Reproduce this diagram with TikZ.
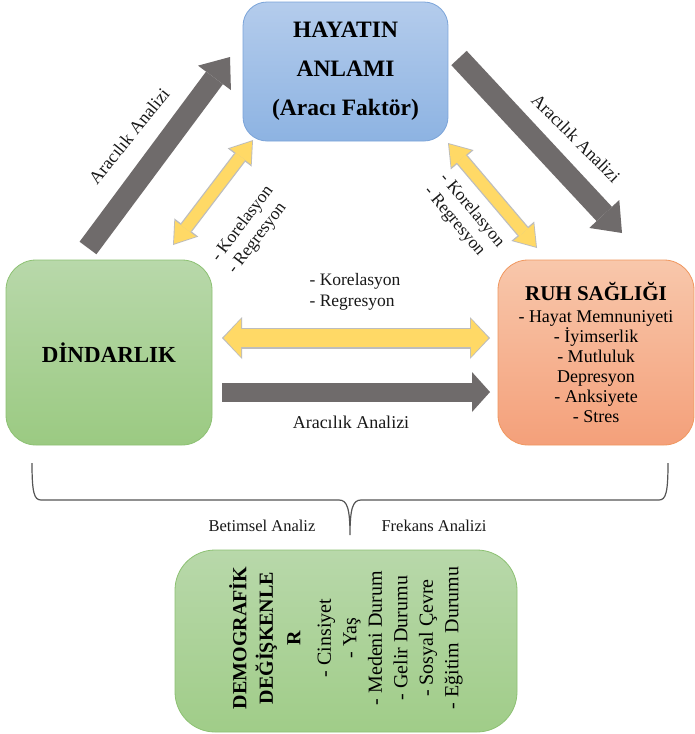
\documentclass[tikz,border=0pt]{standalone}
\usepackage{fontspec}
\setmainfont{Liberation Serif}
\usetikzlibrary{arrows.meta,calc}
\definecolor{bluetop}{HTML}{B4CCEC}
\definecolor{bluebot}{HTML}{8DB3E2}
\definecolor{blueline}{HTML}{7BA4D9}
\definecolor{greentop}{HTML}{B8D8AA}
\definecolor{greenbot}{HTML}{9BCA82}
\definecolor{greenline}{HTML}{8DC173}
\definecolor{orgtop}{HTML}{F8C7AB}
\definecolor{orgbot}{HTML}{F4A07A}
\definecolor{orgline}{HTML}{F0975F}
\definecolor{arrgray}{HTML}{6F6B6B}
\definecolor{arryel}{HTML}{FFD966}
\definecolor{yelline}{HTML}{BDBDBD}
\definecolor{bracecol}{HTML}{555555}
\begin{document}
\begin{tikzpicture}[x=1pt,y=-1pt,
  box/.style={draw, line width=0.8pt, inner sep=0pt, align=center, text=black},
  lbl/.style={inner sep=0pt, align=left, text=black!90, font=\fontsize{17.5}{20.5}\selectfont},
  grayarr/.style={draw=arrgray, line width=21pt,
    -{Triangle[width=41pt 0 0, length=26pt 0 0, line width=0pt]}},
  grayhor/.style={draw=arrgray, line width=19pt,
    -{Triangle[width=40pt 0 0, length=18pt 0 0, line width=0pt]}},
  ydiagB/.style={draw=yelline, line width=14pt,
    {Triangle[width=30pt 0 0, length=22pt 0 0, line width=0pt]}-{Triangle[width=30pt 0 0, length=22pt 0 0, line width=0pt]}},
  ydiagF/.style={draw=arryel, line width=11.5pt, shorten >=1.6pt, shorten <=1.6pt,
    {Triangle[width=26pt 0 0, length=19pt 0 0, line width=0pt]}-{Triangle[width=26pt 0 0, length=19pt 0 0, line width=0pt]}},
  yhorB/.style={draw=yelline, line width=21pt,
    {Triangle[width=42pt 0 0, length=20pt 0 0, line width=0pt]}-{Triangle[width=42pt 0 0, length=20pt 0 0, line width=0pt]}},
  yhorF/.style={draw=arryel, line width=18.5pt, shorten >=1.6pt, shorten <=1.6pt,
    {Triangle[width=38pt 0 0, length=17.5pt 0 0, line width=0pt]}-{Triangle[width=38pt 0 0, length=17.5pt 0 0, line width=0pt]}},
  bracepath/.style={draw=bracecol, line width=1.2pt}
]
\useasboundingbox[fill=white] (0,0) rectangle (695,734);

% boxes
\node[box, draw=blueline, top color=bluetop, bottom color=bluebot, rounded corners=24pt,
  minimum width=205pt, minimum height=139pt,
  font=\fontsize{23.5}{39}\selectfont\bfseries] (hay) at (345.5,71.5)
  {HAYATIN\\ANLAMI\\(Aracı Faktör)};

\node[box, draw=greenline, top color=greentop, bottom color=greenbot, rounded corners=30pt,
  minimum width=206pt, minimum height=185pt,
  font=\fontsize{23}{28}\selectfont\bfseries] (din) at (109,352.5) {DİNDARLIK};

\node[box, draw=orgline, top color=orgtop, bottom color=orgbot, rounded corners=30pt,
  minimum width=196pt, minimum height=185pt,
  font=\fontsize{18}{20}\selectfont] (ruh) at (596,352.5)
  {{\fontsize{21}{22}\selectfont\bfseries RUH SAĞLIĞI}\\[2pt]
   - Hayat Memnuniyeti\\ - İyimserlik\\ - Mutluluk\\ Depresyon\\ - Anksiyete\\ - Stres};

\node[box, draw=greenline, top color=greentop, bottom color=greenbot!95!white, rounded corners=40pt,
  minimum width=342pt, minimum height=182pt] (demo) at (346,641) {};
\node[inner sep=0pt, align=center, rotate=90, font=\fontsize{20}{25.5}\selectfont] (demotext) at ($(demo.center)+(0,-3)$)
  {\textbf{DEMOGRAFİK}\\[1pt] \textbf{DEĞİŞKENLE}\\[2pt] \textbf{R}\\[5pt]
   - Cinsiyet\\ - Yaş\\ - Medeni Durum\\ - Gelir Durumu\\ - Sosyal Çevre\\ - Eğitim\ \ Durumu};

% arrow end points
\coordinate (lgS) at (88,248);   \coordinate (lgE) at (230,57);
\coordinate (rgS) at (459,58);   \coordinate (rgE) at (622,233);
\coordinate (lyS) at (173,245);  \coordinate (lyE) at (253,140);
\coordinate (ryS) at (448,143);  \coordinate (ryE) at (537,248);
\coordinate (hyS) at (222,338);  \coordinate (hyE) at (490,338);
\coordinate (hgS) at (222,392);  \coordinate (hgE) at (490,392);

% arrows
\draw[grayarr] (lgS) -- (lgE);
\draw[grayarr] (rgS) -- (rgE);
\draw[ydiagB] (lyS) -- (lyE);
\draw[ydiagF] (lyS) -- (lyE);
\draw[ydiagB] (ryS) -- (ryE);
\draw[ydiagF] (ryS) -- (ryE);
\draw[yhorB] (hyS) -- (hyE);
\draw[yhorF] (hyS) -- (hyE);
\draw[grayhor] (hgS) -- (hgE);

% labels
\node[lbl, font=\fontsize{18}{20.5}\selectfont] (lblA) at (129,136) [rotate=51] {Aracılık Analizi};
\node[lbl] (lblB) at (251,230) [rotate=53] {- Korelasyon\\- Regresyon};
\node[lbl, font=\fontsize{18}{20.5}\selectfont] (lblC) at (576,138) [rotate=-45] {Aracılık Analizi};
\node[lbl] (lblD) at (464,217) [rotate=-50] {- Korelasyon\\- Regresyon};
\node[lbl] (lblE) at (355,292) {- Korelasyon\\- Regresyon};
\node[lbl, font=\fontsize{18}{20.5}\selectfont] (lblF) at (351,422) {Aracılık Analizi};

% brace
\coordinate (brL) at (32,463);
\coordinate (brC) at (350,535);
\coordinate (brR) at (668,463);
\draw[bracepath] (brL) .. controls (32,492) and (34,500) .. (41,500) -- (339,500)
  .. controls (347,500) and (350,508) .. (brC)
  .. controls (350,508) and (353,500) .. (361,500) -- (659,500)
  .. controls (666,500) and (668,492) .. (brR);
\node[lbl, font=\fontsize{16.5}{20}\selectfont] (bet) at (262,526) {Betimsel Analiz};
\node[lbl, font=\fontsize{16.5}{20}\selectfont] (frek) at (434,526) {Frekans Analizi};
\end{tikzpicture}
\end{document}
